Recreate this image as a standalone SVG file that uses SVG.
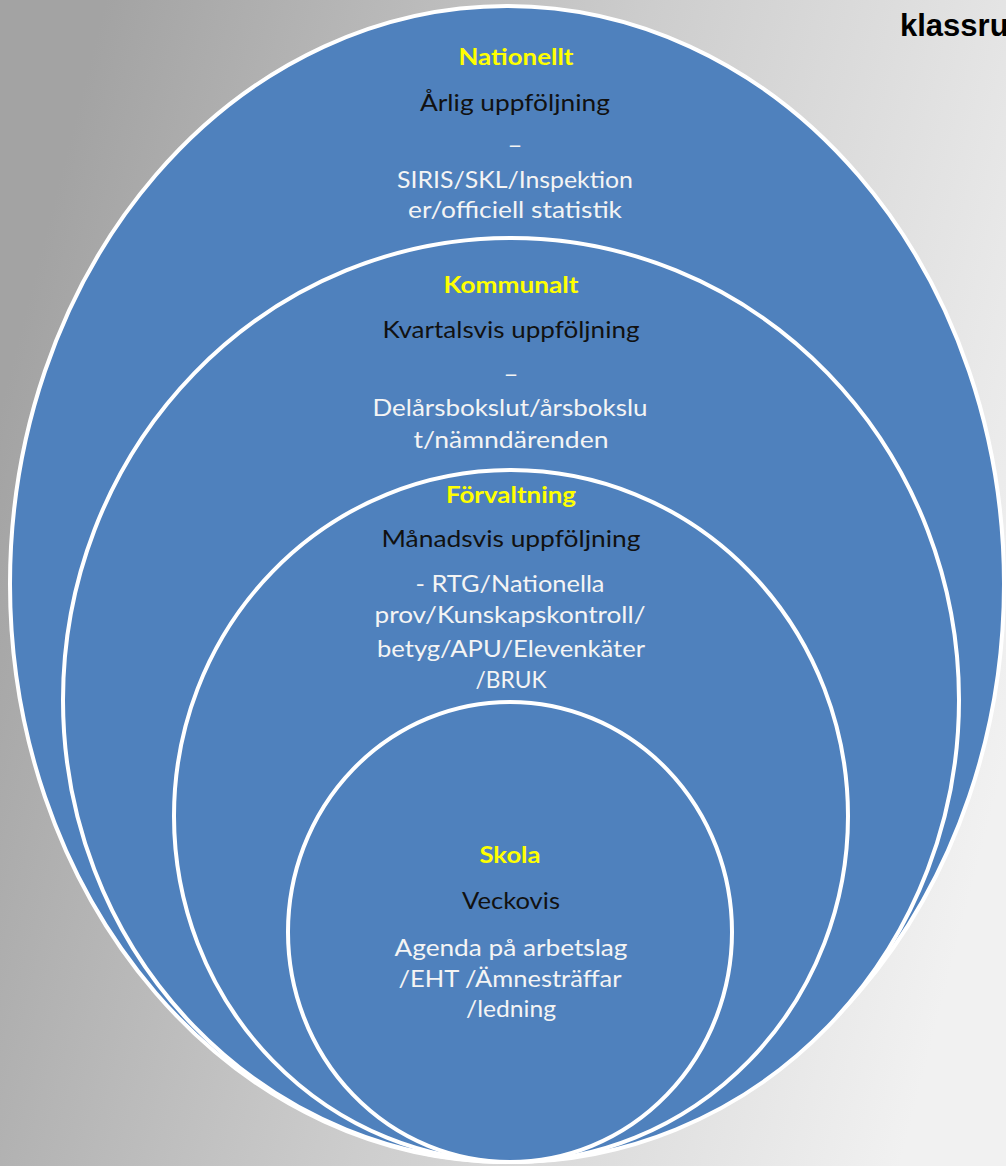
<svg xmlns="http://www.w3.org/2000/svg" width="1006" height="1166" viewBox="0 0 1006 1166">
  <defs>
    <linearGradient id="bg" x1="0" y1="0.35" x2="1" y2="0.65">
      <stop offset="0" stop-color="#a3a3a3"/>
      <stop offset="0.5" stop-color="#cdcdcd"/>
      <stop offset="1" stop-color="#f1f1f1"/>
    </linearGradient>
    <style>
      .ring { fill: #4f81bd; stroke: #ffffff; stroke-width: 4; }
      .t { font-family: "Lato", "Open Sans", sans-serif; font-size: 23px; text-anchor: middle; }
      .head { font-weight: bold; fill: #ffff00; }
      .dark { fill: #111111; }
      .light { fill: #f4f4f4; }
      .note { font-family: "Liberation Sans", Arial, sans-serif; font-weight: bold; font-size: 31px; fill: #000000; }
    </style>
  </defs>
  <rect x="0" y="0" width="1006" height="1166" fill="url(#bg)"/>
  <text class="note" x="900" y="36">klassru</text>

  <g id="nationellt">
    <ellipse class="ring" cx="507" cy="584" rx="497" ry="578"/>
    <text class="t head" x="516" y="65" textLength="115" lengthAdjust="spacingAndGlyphs">Nationellt</text>
    <text class="t dark" x="515" y="111" textLength="190" lengthAdjust="spacingAndGlyphs">Årlig uppföljning</text>
    <text class="t light" x="515" y="153" textLength="15" lengthAdjust="spacingAndGlyphs">–</text>
    <text class="t light" x="515" y="188" textLength="236" lengthAdjust="spacingAndGlyphs">SIRIS/SKL/Inspektion</text>
    <text class="t light" x="515" y="218" textLength="214" lengthAdjust="spacingAndGlyphs">er/officiell statistik</text>
  </g>

  <g id="kommunalt">
    <ellipse class="ring" cx="511" cy="700" rx="448" ry="462"/>
    <text class="t head" x="511" y="293" textLength="135" lengthAdjust="spacingAndGlyphs">Kommunalt</text>
    <text class="t dark" x="511" y="338" textLength="257" lengthAdjust="spacingAndGlyphs">Kvartalsvis uppföljning</text>
    <text class="t light" x="511" y="382" textLength="15" lengthAdjust="spacingAndGlyphs">–</text>
    <text class="t light" x="510" y="416" textLength="275" lengthAdjust="spacingAndGlyphs">Delårsbokslut/årsbokslu</text>
    <text class="t light" x="511" y="448" textLength="195" lengthAdjust="spacingAndGlyphs">t/nämndärenden</text>
  </g>

  <g id="forvaltning">
    <ellipse class="ring" cx="511" cy="816" rx="337" ry="346"/>
    <text class="t head" x="511" y="503" textLength="130" lengthAdjust="spacingAndGlyphs">Förvaltning</text>
    <text class="t dark" x="511" y="547" textLength="259" lengthAdjust="spacingAndGlyphs">Månadsvis uppföljning</text>
    <text class="t light" x="510" y="592" textLength="189" lengthAdjust="spacingAndGlyphs">- RTG/Nationella</text>
    <text class="t light" x="510" y="623" textLength="271" lengthAdjust="spacingAndGlyphs">prov/Kunskapskontroll/</text>
    <text class="t light" x="511" y="657" textLength="268" lengthAdjust="spacingAndGlyphs">betyg/APU/Elevenkäter</text>
    <text class="t light" x="511" y="688" textLength="71" lengthAdjust="spacingAndGlyphs">/BRUK</text>
  </g>

  <g id="skola">
    <ellipse class="ring" cx="510" cy="932" rx="222" ry="230"/>
    <text class="t head" x="510" y="863" textLength="61" lengthAdjust="spacingAndGlyphs">Skola</text>
    <text class="t dark" x="511" y="909" textLength="98" lengthAdjust="spacingAndGlyphs">Veckovis</text>
    <text class="t light" x="511" y="956" textLength="233" lengthAdjust="spacingAndGlyphs">Agenda på arbetslag</text>
    <text class="t light" x="510" y="987" textLength="223" lengthAdjust="spacingAndGlyphs">/EHT /Ämnesträffar</text>
    <text class="t light" x="511" y="1017" textLength="90" lengthAdjust="spacingAndGlyphs">/ledning</text>
  </g>

  <g id="connectors"/>
</svg>
